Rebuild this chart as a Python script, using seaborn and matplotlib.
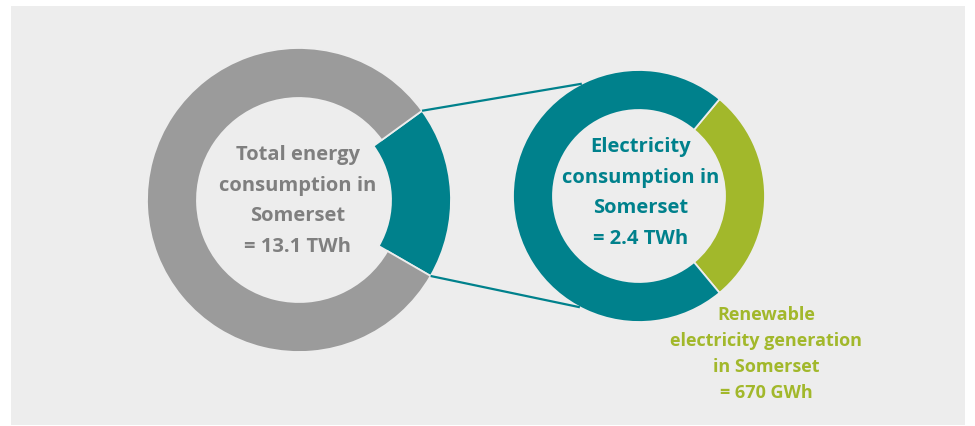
import numpy as np
import matplotlib
matplotlib.use("Agg")
import matplotlib.pyplot as plt
from matplotlib.patches import Rectangle
import seaborn as sns

# ---- data ----
total_energy_twh = 13.1
electricity_twh = 2.4
renewable_gwh = 670

left_labels = ["Electricity", "Other energy"]
left_values = [electricity_twh, total_energy_twh - electricity_twh]
right_labels = ["Renewable generation", "Other electricity"]
right_values = [renewable_gwh / 1000, electricity_twh - renewable_gwh / 1000]

left_text = "Total energy\nconsumption in\nSomerset\n= 13.1 TWh"
right_text = "Electricity\nconsumption in\nSomerset\n= 2.4 TWh"
green_text = "Renewable\nelectricity generation\nin Somerset\n= 670 GWh"

# ---- style ----
sns.set_theme(style="white")
plt.rcParams["font.family"] = ["Open Sans", "DejaVu Sans"]

GRAY = "#9b9b9b"
TEAL = "#00818c"
GREEN = "#a2b82b"
BG = "#ededed"
TXT_GRAY = "#7f7f7f"

W, H = 975, 426
fig = plt.figure(figsize=(W / 100, H / 100), dpi=100)
fig.patch.set_facecolor("white")
ax = fig.add_axes([0, 0, 1, 1])
ax.set_xlim(0, W)
ax.set_ylim(0, H)
ax.set_aspect("equal")
ax.axis("off")

def Y(p):
    return H - p

# panel
ax.add_patch(Rectangle((11, Y(425)), 954, 419, facecolor=BG, edgecolor="none", zorder=0))

# left donut
lc = (299, Y(200))
lr = 152
l_start = -30
w1, _ = ax.pie(left_values, colors=[TEAL, GRAY], startangle=l_start, counterclock=True,
               center=lc, radius=lr, frame=True,
               wedgeprops=dict(width=50, edgecolor=BG, linewidth=1.3))
w1[0].set_width(60)

# right donut
rc = (639, Y(196))
rr = 126
r_start = -50.25
w2, _ = ax.pie(right_values, colors=[GREEN, TEAL], startangle=r_start, counterclock=True,
               center=rc, radius=rr, frame=True,
               wedgeprops=dict(width=40, edgecolor=BG, linewidth=1.3))

ax.set_xlim(0, W)
ax.set_ylim(0, H)
ax.axis("off")

# connector lines from the teal wedge corners to the right donut
t1, t2 = w1[0].theta1, w1[0].theta2
for th_l, th_r in [(t2, 117), (t1, -118)]:
    x0 = lc[0] + lr * np.cos(np.radians(th_l))
    y0 = lc[1] + lr * np.sin(np.radians(th_l))
    x1 = rc[0] + rr * np.cos(np.radians(th_r))
    y1 = rc[1] + rr * np.sin(np.radians(th_r))
    ax.plot([x0, x1], [y0, y1], color=TEAL, lw=1.6, zorder=1, solid_capstyle="butt")

# texts
ax.text(298, Y(201), left_text, ha="center", va="center", multialignment="center",
        fontsize=14.5, fontweight="bold", color=TXT_GRAY, linespacing=1.72, zorder=5)
ax.text(641, Y(193), right_text, ha="center", va="center", multialignment="center",
        fontsize=14.5, fontweight="bold", color=TEAL, linespacing=1.72, zorder=5)
ax.text(766, Y(354), green_text, ha="center", va="center", multialignment="center",
        fontsize=13, fontweight="bold", color=GREEN, linespacing=1.55, zorder=5)

fig.savefig("out.png", dpi=100, facecolor="white")
